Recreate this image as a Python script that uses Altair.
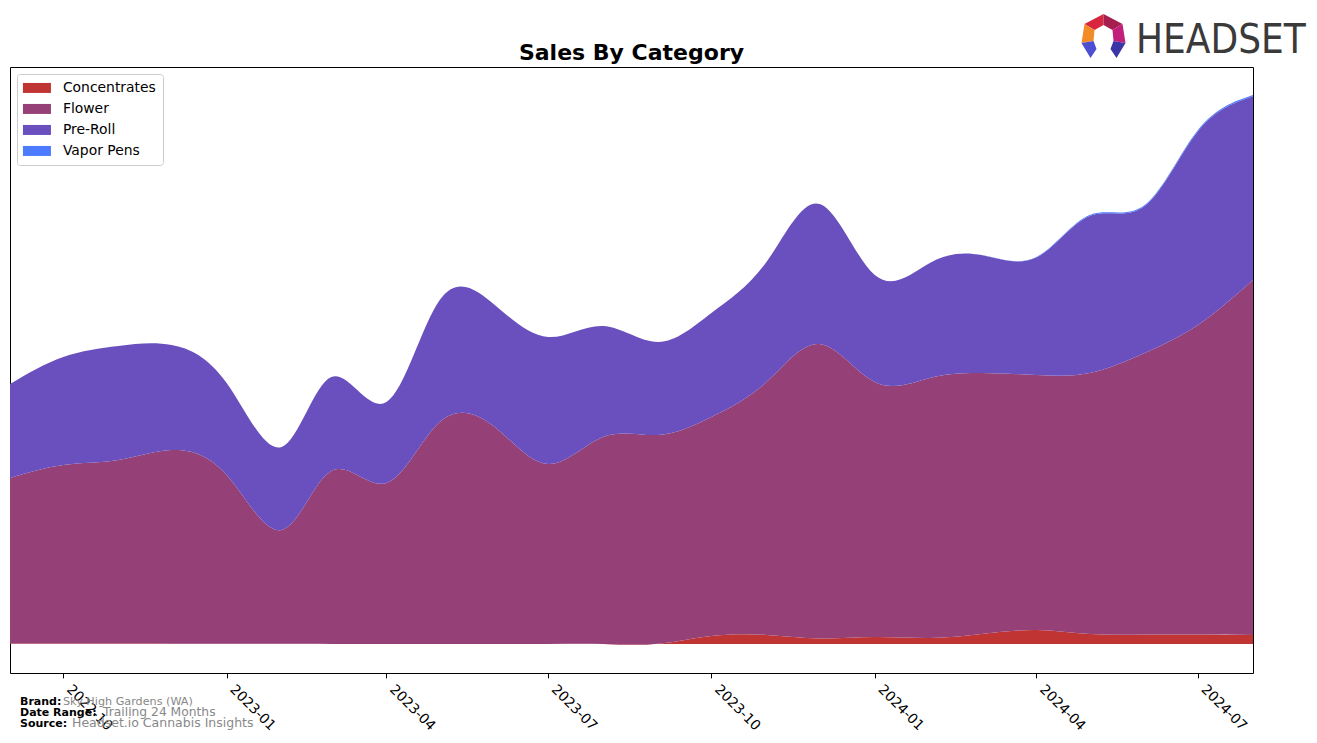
import altair as alt
import pandas as pd

months = ["2022-09-01", "2022-10-01", "2022-11-01", "2022-12-01",
          "2023-01-01", "2023-02-01", "2023-03-01", "2023-04-01",
          "2023-05-01", "2023-06-01", "2023-07-01", "2023-08-01",
          "2023-09-01", "2023-10-01", "2023-11-01", "2023-12-01",
          "2024-01-01", "2024-02-01", "2024-03-01", "2024-04-01",
          "2024-05-01", "2024-06-01", "2024-07-01", "2024-08-01"]

categories = ["Concentrates", "Flower", "Pre-Roll", "Vapor Pens"]
colors = ["#C13434", "#954177", "#6A4FBE", "#4C7BFF"]

concentrates = [0.6, 0.5, 0.4, 0.3, 0.2, 0.2, 0.1, 0.1, 0.1, 0.1, 0.1, 0.1,
                0.3, 8.0, 9.0, 5.5, 7.0, 6.0, 10.0, 14.0, 10.0, 9.5, 9.5, 9.0]
flower = [165.4, 178.5, 183.6, 193.7, 168.8, 113.8, 172.9, 160.9,
          221.9, 216.9, 179.9, 206.9, 208.7, 219.0, 253.0, 294.5,
          255.0, 260.0, 261.0, 255.0, 261.0, 281.5, 309.5, 355.0]
preroll = [94, 108, 114, 105, 92, 83, 94, 81, 122, 122, 127, 111,
           93, 104, 120, 140, 107, 115, 118, 117.5, 157, 147, 193.8, 183.8]
vapor = [0, 0, 0, 0, 0, 0, 0, 0, 0, 0, 0, 0,
         0, 0, 0, 0, 0, 0, 0, 0.5, 1.0, 1.0, 1.2, 1.2]

tick_labels = ["2022-10", "2023-01", "2023-04", "2023-07",
               "2023-10", "2024-01", "2024-04", "2024-07"]

title_text = "Sales By Category"
footer_labels = ["Brand:", "Date Range:", "Source:"]
footer_values = ["Sky High Gardens (WA)", "Trailing 24 Months", "Headset.io Cannabis Insights"]

rows = []
for i, m in enumerate(months):
    for k, (cat, vals) in enumerate(zip(categories, [concentrates, flower, preroll, vapor])):
        rows.append({"month": m, "category": cat, "sales": vals[i], "order": k})
df = pd.DataFrame(rows)


def dt(s):
    y, mth = s.split("-")[:2]
    return alt.DateTime(year=int(y), month=int(mth), date=1, utc=True)


tick_vals = [dt(t) for t in tick_labels]

area = alt.Chart(df).mark_area(interpolate="natural", opacity=1, strokeWidth=0).encode(
    x=alt.X("month:T",
            scale=alt.Scale(type="utc", domain=[dt(months[0]), dt(months[-1])], nice=False),
            axis=alt.Axis(values=tick_vals,
                          labelExpr="utcFormat(datum.value, '%Y-%m')",
                          labelAngle=45, labelAlign="left", labelBaseline="bottom",
                          labelFontSize=13.9, labelFont="DejaVu Sans", labelColor="black",
                          tickColor="black", tickSize=4.9, tickWidth=1,
                          domain=False, grid=False, title=None,
                          labelPadding=14,
                          labelOverlap=False, labelBound=False, labelFlush=False)),
    y=alt.Y("sales:Q", stack="zero",
            scale=alt.Scale(domain=[-29, 577], nice=False, zero=False),
            axis=None),
    color=alt.Color("category:N",
                    scale=alt.Scale(domain=categories, range=colors),
                    legend=alt.Legend(title=None, orient="none", legendX=7, legendY=7,
                                      symbolType="M-2.8,-1H2.8V1H-2.8Z", symbolSize=100,
                                      symbolStrokeWidth=0, symbolOpacity=1,
                                      labelFontSize=13.9, labelFont="DejaVu Sans",
                                      labelColor="black", rowPadding=6, padding=7,
                                      fillColor="white", strokeColor="#cccccc",
                                      cornerRadius=3, symbolOffset=6, labelOffset=19)),
    order=alt.Order("order:Q", sort="ascending"),
)

one = pd.DataFrame({"a": [0]})
layers = [area]

layers.append(alt.Chart(one).mark_text(text=title_text, font="DejaVu Sans", fontSize=22,
                                       fontWeight="bold", color="black", align="center",
                                       baseline="alphabetic")
              .encode(x=alt.value(621.5), y=alt.value(-7.5)))

label_x = [10, 10, 10]
value_x = [53, 93, 62]
value_size = [11.2, 12.3, 12.5]
line_y = [638, 649, 660]
for lab, val, lx, vx, vs, ly in zip(footer_labels, footer_values, label_x, value_x, value_size, line_y):
    layers.append(alt.Chart(one).mark_text(text=lab, font="DejaVu Sans", fontSize=11,
                                           fontWeight="bold", color="black", align="left",
                                           baseline="alphabetic")
                  .encode(x=alt.value(lx), y=alt.value(ly)))
    layers.append(alt.Chart(one).mark_text(text=val, font="DejaVu Sans", fontSize=vs,
                                           color="#888888", align="left",
                                           baseline="alphabetic")
                  .encode(x=alt.value(vx), y=alt.value(ly)))

# Headset logo
logo_pieces = [
    ("M0,-22L-19,-12L-9,-6L0,-11Z", "#D7263D"),
    ("M0,-22L19,-12L9,-6L0,-11Z", "#A61E4D"),
    ("M-19,-12L-22,7L-10,5L-9,-6Z", "#F28C28"),
    ("M19,-12L22,7L10,5L9,-6Z", "#C21F7A"),
    ("M-22,7L-10,5L-7,13L-13,22Z", "#4D4FD1"),
    ("M22,7L10,5L7,13L13,22Z", "#3B36A6"),
]
for path, col in logo_pieces:
    layers.append(alt.Chart(one).mark_point(shape=path, size=4, filled=True, fill=col,
                                            opacity=1, strokeWidth=0)
                  .encode(x=alt.value(1093.5), y=alt.value(-31)))
layers.append(alt.Chart(one).mark_text(text="HEADSET",
                                       font="DejaVu Sans Condensed, Liberation Sans Narrow, DejaVu Sans",
                                       fontSize=40, color="#3a3a3a", align="left",
                                       baseline="alphabetic")
              .encode(x=alt.value(1126), y=alt.value(-13.7)))

chart = alt.layer(*layers).properties(
    width=1243, height=606,
    padding={"left": 10, "top": 67, "right": 64, "bottom": 70},
    autosize=alt.AutoSizeParams(type="none"),
).configure_view(stroke="black", strokeWidth=1)

chart.save("out.html", embed_options={"renderer": "svg", "actions": False})
